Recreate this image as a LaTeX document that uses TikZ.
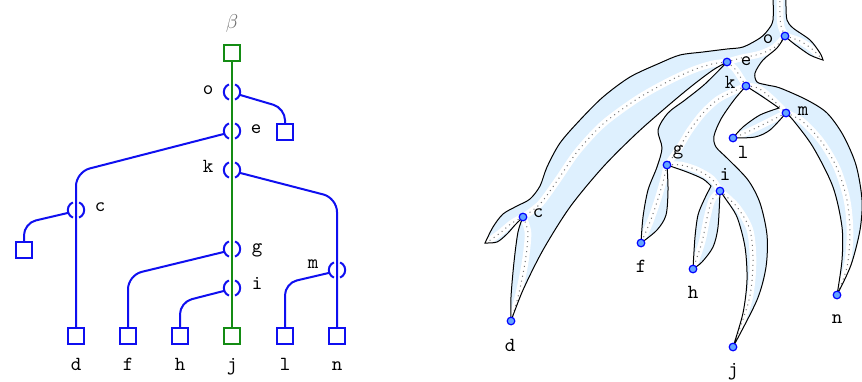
\documentclass[tikz,border=0pt]{standalone}
\usetikzlibrary{calc}
\definecolor{wireblue}{RGB}{15,15,240}
\definecolor{trunkgreen}{RGB}{20,140,20}
\definecolor{surfblue}{RGB}{222,240,254}
\definecolor{vtxfill}{RGB}{100,165,255}
\tikzset{
  wire/.style={wireblue, line width=1pt},
  trunkwire/.style={trunkgreen, line width=1pt},
  leafbox/.style={draw=wireblue, line width=1pt, fill=white, minimum size=7.8pt, inner sep=0pt},
  rootbox/.style={leafbox, draw=trunkgreen},
  xing/.style={circle, minimum size=8pt, inner sep=0pt},
  lab/.style={font=\ttfamily, anchor=base, inner sep=0pt},
  band/.style={white, line width=3.3pt, line cap=round},
  dots/.style={black!55, dotted, line width=0.5pt},
  rim/.style={black, line width=0.5pt},
  vtx/.style={circle, draw=blue, fill=vtxfill, line width=0.6pt, minimum size=3.8pt, inner sep=0pt},
}
\newcommand\surfpath{plot[smooth] coordinates {(773,-4) (773,20) (768,30) (760,38) (743,47) (727,49) (703,52) (680,55) (660,63) (630,77) (603,97) (580,120) (560,143) (547,167) (540,186) (530,199) (517,206) (503,214) (493,227) (pCt)}
 -- plot[smooth] coordinates {(pCt) (497,242) (507,234) (515,225) (pC)}
 -- plot[smooth] coordinates {(pC) (518,232) (514,262) (511,297) (pD)}
 -- plot[smooth] coordinates {(pD) (523,290) (543,250) (570,207) (603,167) (637,133) (670,104) (693,85) (713,70) (pE)}
 -- plot[smooth] coordinates {(pE) (705,84) (685,100) (668,113) (658,130) (662,148) (657,167) (648,190) (643,217) (pF)}
 -- plot[smooth] coordinates {(pF) (657,230) (666,215) (668,190) (pG)}
 -- plot[smooth] coordinates {(pG) (687,172) (703,179) (711,186)}
 -- plot[smooth] coordinates {(711,186) (704,200) (698,215) (695,237) (pH)}
 -- plot[smooth] coordinates {(pH) (702,262) (713,247) (718,227) (pI)}
 -- plot[smooth] coordinates {(pI) (725,198) (737,217) (745,247) (747,280) (743,313) (pJ)}
 -- plot[smooth] coordinates {(pJ) (757,300) (766,267) (767,235) (760,203) (748,180) (728,159) (716,147) (714,136) (721,119) (734,100) (pK)}
 -- plot[smooth] coordinates {(pK) (763,97) (779,108)}
 -- plot[smooth] coordinates {(779,108) (760,115) (743,127) (pL)}
 -- plot[smooth] coordinates {(pL) (755,137) (770,130) (pM)}
 -- plot[smooth] coordinates {(pM) (793,120) (813,147) (833,187) (842,227) (842,260) (pN)}
 -- plot[smooth] coordinates {(pN) (851,265) (860,230) (862,200) (856,165) (843,135) (827,113) (807,100) (780,88) (767,85) (757,82) (755,73) (763,60) (777,48) (pO)}
 -- plot[smooth] coordinates {(pO) (793,43) (810,55) (pOt)}
 -- plot[smooth] coordinates {(pOt) (820,53) (810,40) (793,28) (787,20) (786,7) (786,-4)}
 -- cycle}
\newcommand\treeedges[1]{%
 \draw[#1] plot[smooth] coordinates {(pTop) (780,15) (781,26) (pO)};
 \draw[#1] plot[smooth] coordinates {(pO) (800,41) (812,49) (820,57)};
 \draw[#1] plot[smooth] coordinates {(pO) (775,47) (760,54) (741,58) (pE)};
 \draw[#1] plot[smooth] coordinates {(pE) (712,64) (693,70) (667,82) (637,99) (603,124) (577,152) (557,181) (540,204) (pC)};
 \draw[#1] plot[smooth] coordinates {(pC) (512,223) (500,233) (489,241)};
 \draw[#1] plot[smooth] coordinates {(pC) (528,233) (525,263) (518,297) (pD)};
 \draw[#1] plot[smooth] coordinates {(pE) (735,69) (741,78) (pK)};
 \draw[#1] plot[smooth] coordinates {(pK) (730,93) (717,100) (703,113) (690,130) (679,148) (pG)};
 \draw[#1] plot[smooth] coordinates {(pG) (663,182) (657,202) (650,222) (pF)};
 \draw[#1] plot[smooth] coordinates {(pG) (681,165) (697,170) (712,179) (pI)};
 \draw[#1] plot[smooth] coordinates {(pI) (712,200) (707,218) (702,242) (pH)};
 \draw[#1] plot[smooth] coordinates {(pI) (737,207) (750,230) (753,263) (749,300) (pJ)};
 \draw[#1] plot[smooth] coordinates {(pK) (758,88) (771,98) (pM)};
 \draw[#1] plot[smooth] coordinates {(pM) (772,120) (758,127) (745,133) (pL)};
 \draw[#1] plot[smooth] coordinates {(pM) (802,121) (821,141) (837,168) (847,200) (850,233) (847,267) (pN)};
}
\begin{document}
\begin{tikzpicture}[x=0.5pt,y=-0.5pt]
\useasboundingbox (0,0) rectangle (862,381);
% ---------------- left: strand diagram ----------------
\node[black!55, anchor=base, inner sep=0pt] (beta) at (232,28) {$\beta$};
\node[rootbox] (top) at (232,53) {};
\node[rootbox] (jb) at (232,336) {};
\node[leafbox] (db) at (76,336) {};
\node[leafbox] (fb) at (128,336) {};
\node[leafbox] (hb) at (180,336) {};
\node[leafbox] (lb) at (285,336) {};
\node[leafbox] (nb) at (337,336) {};
\node[leafbox] (ob) at (285,132) {};
\node[leafbox] (cb) at (24,250) {};
\node[xing] (o) at (232,92) {};
\node[xing] (e) at (232,131) {};
\node[xing] (k) at (232,170) {};
\node[xing] (g) at (232,249) {};
\node[xing] (i) at (232,288) {};
\node[xing] (c) at (76,210) {};
\node[xing] (m) at (337,270) {};
\draw[trunkwire] (top.south) -- (jb.north);
\draw[wire, rounded corners=6pt] (o.-20) -- ($(ob.north)+(0,-15)$) -- (ob.north);
\draw[wire, rounded corners=7pt] (e.200) -- ($(c)+(0,-38)$) -- (db.north);
\draw[wire, rounded corners=7pt] (k.-20) -- ($(m)+(0,-72)$) -- (nb.north);
\draw[wire, rounded corners=6pt] (c.200) -- ($(cb.north)+(0,-18)$) -- (cb.north);
\draw[wire, rounded corners=7pt] (g.200) -- ($(fb.north)+(0,-52)$) -- (fb.north);
\draw[wire, rounded corners=6pt] (i.200) -- ($(hb.north)+(0,-25)$) -- (hb.north);
\draw[wire, rounded corners=6pt] (m.200) -- ($(lb.north)+(0,-44)$) -- (lb.north);
\foreach \n in {o,e,k,g,i,c,m}{
  \draw[wire, shift={(\n)}] (112:4.1pt) arc[start angle=112, end angle=248, radius=4.1pt];
  \draw[wire, shift={(\n)}] (-68:4.1pt) arc[start angle=-68, end angle=68, radius=4.1pt];
}
\node[lab] (lo) at (208,94) {o};
\node[lab] (le) at (256,133) {e};
\node[lab] (lk) at (208,172) {k};
\node[lab] (lc) at (100,211) {c};
\node[lab] (lg) at (257,252) {g};
\node[lab] (li) at (257,289) {i};
\node[lab] (lm) at (313,268) {m};
\node[lab] (ld) at (76,370) {d};
\node[lab] (lf) at (128,370) {f};
\node[lab] (lh) at (180,370) {h};
\node[lab] (lj) at (232,370) {j};
\node[lab] (ll) at (285,370) {l};
\node[lab] (ln) at (337,370) {n};
% ---------------- right: surface ----------------
\coordinate (pO) at (785,36);
\coordinate (pE) at (727,62);
\coordinate (pK) at (746,86);
\coordinate (pM) at (786,113);
\coordinate (pL) at (733,138);
\coordinate (pG) at (667,165);
\coordinate (pI) at (720,191);
\coordinate (pC) at (523,217);
\coordinate (pF) at (641,243);
\coordinate (pH) at (693,269);
\coordinate (pD) at (511,321);
\coordinate (pJ) at (733,347);
\coordinate (pN) at (837,295);
\coordinate (pTop) at (780,-4);
\coordinate (pOt) at (823,60);
\coordinate (pCt) at (485,243);
\fill[surfblue] \surfpath;
\begin{scope}
  \clip \surfpath;
  \treeedges{band}
\end{scope}
\treeedges{dots}
\draw[rim] \surfpath;
\foreach \v in {O,E,K,M,L,G,I,C,F,H,D,J,N}{
  \node[vtx] (v\v) at (p\v) {};
}
\node[lab] (tO) at (768,43) {o};
\node[lab] (tE) at (746,65) {e};
\node[lab] (tK) at (730,88) {k};
\node[lab] (tM) at (803,115) {m};
\node[lab] (tL) at (743,158) {l};
\node[lab] (tG) at (678,154) {g};
\node[lab] (tI) at (725,180) {i};
\node[lab] (tC) at (538,217) {c};
\node[lab] (tF) at (641,272) {f};
\node[lab] (tH) at (693,298) {h};
\node[lab] (tD) at (510,351) {d};
\node[lab] (tJ) at (733,375) {j};
\node[lab] (tN) at (837,323) {n};
\end{tikzpicture}
\end{document}
